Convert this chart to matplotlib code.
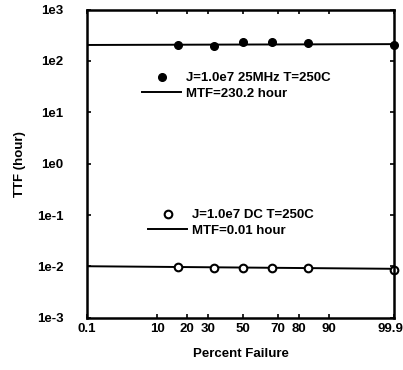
import numpy as np
import matplotlib
matplotlib.use("Agg")
import matplotlib.pyplot as plt
import matplotlib.transforms as mtransforms
from matplotlib.lines import Line2D
from statistics import NormalDist

# data
pct = [16.7, 33.3, 50, 66.7, 83.3, 99.9]
ttf_25mhz = [205, 195, 237, 234, 224, 205]
ttf_dc = [0.0096, 0.0093, 0.0094, 0.0093, 0.0093, 0.0086]
fit_pct = [0.1, 99.9]
fit_25mhz = [205, 213]
fit_dc = [0.0101, 0.0090]
xticks = [0.1, 10, 20, 30, 50, 70, 80, 90, 99.9]
xtick_labels = ['0.1', '10', '20', '30', '50', '70', '80', '90', '99.9']
yticks = [1e-3, 1e-2, 1e-1, 1e0, 1e1, 1e2, 1e3]
ytick_labels = ['1e-3', '1e-2', '1e-1', '1e0', '1e1', '1e2', '1e3']

plt.rcParams['font.family'] = ['Liberation Sans', 'DejaVu Sans']
plt.rcParams['font.weight'] = 'bold'
FS = 9.5

nd = NormalDist()
LO, HI = 1.0, 98.8  # probability paper is cut at the edges


def fwd(p):
    p = np.clip(np.asarray(p, float), LO, HI)
    return np.vectorize(lambda v: nd.inv_cdf(v / 100.0), otypes=[float])(p)


def inv(z):
    z = np.asarray(z, float)
    return np.vectorize(lambda v: nd.cdf(v) * 100.0, otypes=[float])(z)


fig = plt.figure(figsize=(4.03, 3.70), dpi=100)
ax = fig.add_axes([0.216, 0.141, 0.762, 0.833])
ax.set_xscale('function', functions=(fwd, inv))
ax.set_yscale('log')

ax.plot(fit_pct, fit_25mhz, color='black', lw=1.4)
ax.plot(pct, ttf_25mhz, 'o', color='black', ms=5.5, clip_on=False)
ax.plot(fit_pct, fit_dc, color='black', lw=1.4)
ax.plot(pct, ttf_dc, 'o', mfc='white', mec='black', mew=1.5, ms=5.5, clip_on=False)

ax.set_xlim(0.1, 99.9)
ax.set_ylim(1e-3, 1e3)
ax.set_xticks(xticks)
ax.set_xticklabels(xtick_labels)
ax.set_yticks(yticks)
ax.set_yticklabels(ytick_labels)
ax.minorticks_off()
ax.tick_params(direction='in', length=3, width=1.2, top=True, right=True,
               labelsize=FS)
ax.tick_params(axis='y', pad=17)
ax.tick_params(axis='x', pad=4)
for s in ax.spines.values():
    s.set_linewidth(1.8)

# last x label sits a bit inside the figure edge
last = ax.get_xticklabels()[-1]
last.set_transform(last.get_transform() +
                   mtransforms.ScaledTranslation(-4 / 100, 0, fig.dpi_scale_trans))

ax.set_xlabel('Percent Failure', fontsize=FS, fontweight='bold', labelpad=9)
ax.set_ylabel('TTF (hour)', fontsize=FS, fontweight='bold', labelpad=8)

h1 = [Line2D([], [], ls='none', marker='o', color='black', ms=5.5),
      Line2D([], [], color='black', lw=1.4)]
leg1 = ax.legend(h1, ['J=1.0e7 25MHz T=250C', 'MTF=230.2 hour'],
                 loc='upper left', bbox_to_anchor=(0.163, 0.814), frameon=False,
                 fontsize=FS, handlelength=2.95, handletextpad=0.35,
                 labelspacing=0.25, borderaxespad=0)
ax.add_artist(leg1)
h2 = [Line2D([], [], ls='none', marker='o', mfc='white', mec='black',
             mew=1.5, ms=5.5),
      Line2D([], [], color='black', lw=1.4)]
ax.legend(h2, ['J=1.0e7 DC T=250C', 'MTF=0.01 hour'],
          loc='upper left', bbox_to_anchor=(0.182, 0.37), frameon=False,
          fontsize=FS, handlelength=2.95, handletextpad=0.35,
          labelspacing=0.25, borderaxespad=0)

fig.savefig('out.png', dpi=100)
